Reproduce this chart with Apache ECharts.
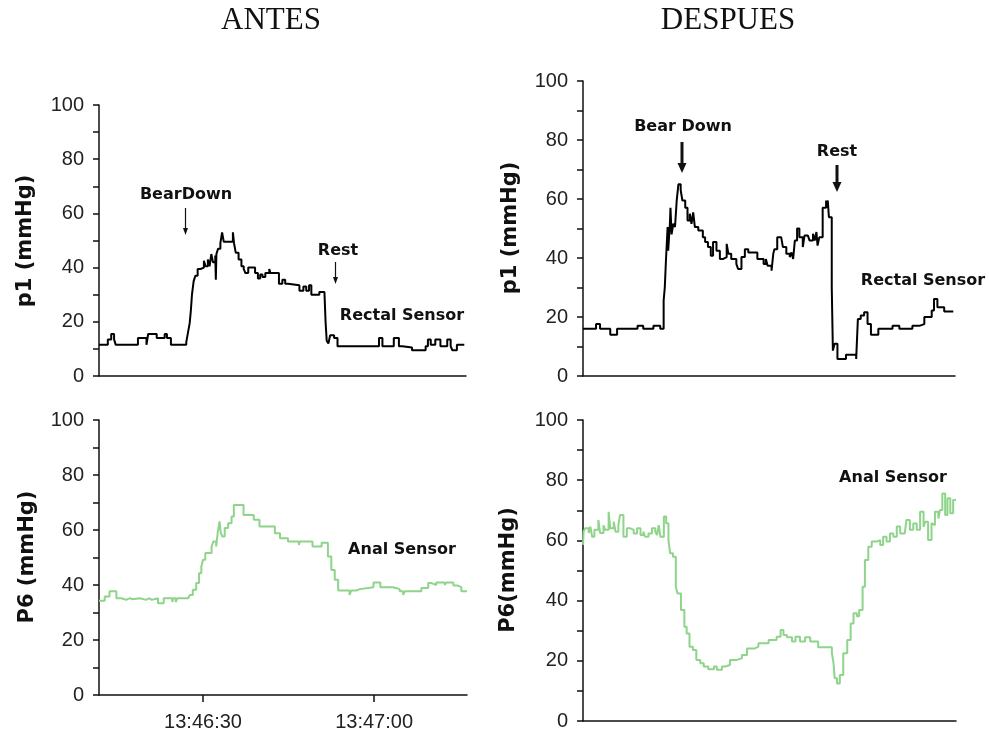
<!DOCTYPE html>
<html><head><meta charset="utf-8">
<script src="https://cdn.jsdelivr.net/npm/echarts@6/dist/echarts.min.js"></script>
<style>html,body{margin:0;padding:0;background:#fff}#c{width:989px;height:733px}</style>
</head><body><div id="c"></div>
<script>
// ---- DATA: [seconds, mmHg] (left: seconds after 13:46:00) ----
const antesRectal = [[11.75,11.5],[13.3,13.5],[13.9,15.5],[14.4,13.5],[14.7,11.5],[18.6,14],[20.1,11.5],[20.4,15.5],[21.9,14],[23.3,15.5],[23.7,14],[24.4,11.5],[27.1,12.5],[27.4,16],[27.7,19.5],[27.9,24],[28.1,30],[28.4,35],[28.7,37],[29.1,39.5],[29.6,40],[30.2,42.5],[30.5,40.5],[30.9,43],[31.2,40.5],[31.5,45],[31.8,42],[32.2,44.5],[32.3,35.5],[32.4,45],[32.7,47],[33.1,49],[33.4,53],[33.7,49.5],[35.3,53],[35.5,49],[35.8,45.5],[36.3,43],[36.8,40.5],[37.2,39.5],[37.5,38],[38.0,40],[39.2,38],[39.7,36],[40.1,37.5],[40.5,36.5],[41.0,38],[41.7,39.5],[41.9,38],[43.4,34],[44.0,35.5],[44.5,34],[45.0,33.5],[47.0,31.5],[47.7,33],[48.2,31.5],[48.7,33.5],[49.1,30],[50.5,31],[51.4,30.5],[51.6,20],[51.8,13],[52.1,12],[52.4,15],[53.1,14],[53.7,11],[61.0,14],[61.6,11],[63.6,14],[64.5,11],[65.1,10.5],[66.8,9.5],[69.2,11],[69.6,13.5],[70.1,11.5],[70.9,13.5],[71.8,11],[73.0,13.5],[73.6,11],[73.9,9.5],[74.7,11.5],[76.0,11.5]];
const antesAnal = [[11.75,34.3],[12.75,35.8],[13.6,37.7],[14.8,35.2],[15.7,34.6],[16.5,35.2],[17.2,34.8],[17.6,35.2],[18.9,34.6],[20.0,35.2],[20.6,34.6],[21.0,35.2],[22.1,33.4],[23.1,35.2],[24.6,33.8],[24.8,35.2],[25.2,33.8],[25.5,35.2],[27.4,35.2],[27.7,36.4],[28.2,38.3],[28.8,40.7],[29.3,44.3],[29.7,46.7],[30.0,49.2],[30.4,51.6],[31.5,54],[31.8,55.8],[32.3,54],[32.6,59.4],[32.9,63.1],[33.1,59],[33.4,57.6],[33.8,60.7],[34.4,62.5],[35.0,64.9],[35.4,69.1],[37.1,65.5],[38.9,63.7],[39.9,61.3],[42.6,58.8],[43.5,57],[44.9,55.8],[46.8,54.6],[47.0,55.8],[49.2,54],[50.8,55.4],[51.9,50.4],[52.5,45.5],[53.1,41.9],[53.7,38],[55.7,36.4],[56.0,38],[56.9,38.5],[57.5,39.2],[59.9,40.9],[61.1,39.2],[63.3,38.5],[64.5,37.7],[65.1,36.4],[65.4,37.7],[68.3,38.9],[69.5,40.7],[70.1,40],[70.9,40.9],[72.4,40],[72.7,40.9],[73.9,39.8],[74.7,39.2],[75.3,37.7],[76.3,37.7]];
const despuesRectal = [[0,16],[2.3,17.6],[3.0,16],[4.8,14],[6.0,16],[9.6,17],[10.6,16],[12.4,17],[13.6,16],[14.2,25.6],[14.4,30],[14.6,39],[14.9,50.5],[15.0,42.5],[15.3,51.6],[15.4,57],[15.6,48],[15.9,51.6],[16.2,50.5],[16.5,59.5],[16.8,65],[17.2,63],[17.5,59.5],[18.0,57],[18.4,52.7],[18.8,55],[19.1,51.6],[19.4,55.5],[19.7,50.5],[20.3,49.3],[21.1,47],[21.5,45.4],[22.0,43.7],[22.5,40.8],[22.9,45.4],[23.5,42.5],[24.1,39.7],[24.7,40.3],[25.3,44.8],[25.6,41.4],[26.1,39.7],[27.0,38],[27.3,36.3],[27.9,40.3],[28.5,43],[29.1,41.9],[30.7,39.7],[31.8,38],[32.2,39.7],[32.5,37.4],[33.2,35.7],[33.5,41.4],[33.7,43],[34.2,47],[34.9,47.6],[35.2,43.7],[35.8,41.4],[36.4,40.3],[36.7,41.9],[37.0,39.7],[37.3,45.9],[37.7,50],[38.1,47],[38.7,43.7],[39.0,47.6],[39.6,47],[39.9,45.9],[40.5,48.2],[40.8,45.9],[41.1,48.8],[41.3,44.2],[41.6,47],[42.2,57],[42.8,59.5],[42.9,57],[43.1,59.5],[43.3,53.8],[43.8,30],[44.0,8.6],[44.3,10.9],[44.8,5.8],[46.3,7.2],[48.1,5.8],[48.4,19.3],[48.9,20.5],[49.5,21.6],[50.1,17.6],[50.7,14],[52.0,16],[54.5,17],[55.7,16],[58.0,17],[59.2,17.6],[60.1,20],[61.4,22.2],[61.8,26.1],[62.4,23.3],[63.6,21.9],[65.2,21.9]];
const despuesAnal = [[0,58.5],[0.1,63],[0.4,64],[1.0,62.5],[1.3,64.6],[1.6,61.2],[2.0,63.5],[2.7,66.8],[3.0,62.5],[3.6,65],[3.9,63.5],[4.5,69.5],[4.8,64],[5.4,66.2],[5.7,62.9],[6.2,65],[6.5,68.4],[7.1,61.2],[7.7,64],[8.3,63.5],[8.9,62.3],[9.5,64],[10.1,61.8],[10.6,62.9],[10.9,61.2],[11.5,62.3],[12.1,64],[12.7,62.9],[13.0,61.8],[13.3,65.1],[13.6,61.2],[14.2,67.9],[14.6,65.7],[15.0,60.1],[15.3,55.7],[15.8,54.6],[16.3,44.6],[16.6,42.4],[17.2,36.9],[17.8,31.3],[18.2,29.1],[18.7,24.7],[19.3,23.6],[19.9,20.3],[20.6,19.2],[21.2,18.1],[22.0,17.2],[23.0,18.1],[23.5,17],[24.4,18.1],[25.0,18.6],[25.8,20.3],[27.0,20.8],[27.9,21.9],[28.8,24.1],[30.2,24.7],[30.8,25.8],[32.6,26.9],[34.0,28],[34.7,30.2],[35.2,28.6],[35.8,27.8],[36.7,26.4],[37.3,28],[38.1,26.4],[39.0,27.8],[39.9,26.4],[41.3,24.5],[43.7,22.5],[44.0,19.2],[44.2,14.2],[44.6,12.5],[45.1,15.3],[45.7,22.5],[46.4,26.9],[47.0,32.4],[47.5,35.8],[48.1,34.8],[48.5,36.9],[49.1,44.6],[49.5,53.5],[50.1,57.9],[50.7,59.6],[51.6,60.1],[52.2,58.5],[52.7,61.2],[53.3,59.6],[53.9,62.3],[54.5,61.2],[55.1,64.6],[55.7,62.3],[56.5,62.9],[56.8,66.8],[57.4,63.5],[58.0,65.6],[58.6,63.5],[59.2,69.5],[59.8,64.5],[60.1,66.2],[60.6,60.1],[61.2,65.7],[61.5,65.1],[61.8,69.5],[62.4,67.3],[62.7,70.1],[63.1,75.6],[63.6,68.4],[64.0,74],[64.5,69],[65.0,73.4],[65.5,73.4]];
const xTickValues = [30, 60];
const xTickLabels = ['13:46:30', '13:47:00'];
const panelTitles = ['ANTES', 'DESPUES'];
const yNames = ['p1 (mmHg)', 'P6 (mmHg)', 'p1 (mmHg)', 'P6(mmHg)'];

// ---- CHART ----
const chart = echarts.init(document.getElementById('c'), null, {renderer: 'canvas'});
const FONT = '"Liberation Sans", Arial, Helvetica, sans-serif';
const BFONT = '"DejaVu Sans", "Liberation Sans", Arial, sans-serif';
const AX = '#111';
const BLACK = '#000';
const GREEN = '#8ed48a';

function yAx(gi) {
  return {type: 'value', gridIndex: gi, min: 0, max: 100, interval: 10,
    axisLine: {show: true, lineStyle: {color: AX, width: 1.5}},
    axisTick: {show: true, inside: false, length: 6, lineStyle: {color: AX, width: 1.5}},
    axisLabel: {show: true, margin: 15, fontSize: 20, color: '#222', fontFamily: FONT,
      formatter: v => (v % 20 === 0 ? String(v) : '')},
    splitLine: {show: false}};
}
function xAx(gi, min, max, withLabels) {
  return {type: 'value', gridIndex: gi, min: min, max: max,
    axisLine: {show: true, onZero: false, lineStyle: {color: AX, width: 1.5}},
    axisTick: withLabels ? {show: true, length: 7, customValues: xTickValues, lineStyle: {color: AX, width: 1.5}} : {show: false},
    axisLabel: withLabels ? {show: true, customValues: xTickValues, margin: 17, fontSize: 20, color: '#222', fontFamily: FONT,
      formatter: v => xTickLabels[xTickValues.indexOf(v)] || ''} : {show: false},
    splitLine: {show: false}};
}
function ser(i, data, color) {
  return {type: 'line', xAxisIndex: i, yAxisIndex: i, data: data, step: 'end',
    showSymbol: false, symbol: 'none', lineStyle: {color: color, width: 2}, itemStyle: {color: color},
    emphasis: {disabled: true}, silent: true, z: 3};
}
function txt(x, y, s, font, rot) {
  return {type: 'text', x: x, y: y, rotation: rot || 0, silent: true,
    style: {text: s, font: font, fill: '#111', textAlign: 'center', textVerticalAlign: 'middle'}};
}
function arrow(x, y1, y2, thick) {
  const w = thick ? 3 : 1.2, hw = thick ? 4.5 : 2.5, hh = thick ? 10 : 7;
  return {type: 'group', silent: true, children: [
    {type: 'line', shape: {x1: x, y1: y1, x2: x, y2: y2 - hh + 1}, style: {stroke: '#111', lineWidth: w}},
    {type: 'polygon', shape: {points: [[x - hw, y2 - hh], [x + hw, y2 - hh], [x, y2]]}, style: {fill: '#111'}}
  ]};
}
const ANN = 'bold 16px ' + BFONT;
const YN = 'bold 21px ' + BFONT;
const TT = '31px "Liberation Serif", "Times New Roman", serif';

chart.setOption({
  animation: false,
  backgroundColor: '#fff',
  grid: [
    {left: 99, top: 105, width: 367, height: 271},
    {left: 99, top: 420, width: 368, height: 275},
    {left: 583, top: 81, width: 372, height: 295},
    {left: 583, top: 420, width: 373, height: 301}
  ],
  xAxis: [xAx(0, 11.75, 76.3, false), xAx(1, 11.75, 76.3, true), xAx(2, 0, 65.5, false), xAx(3, 0, 65.5, false)],
  yAxis: [yAx(0), yAx(1), yAx(2), yAx(3)],
  series: [ser(0, antesRectal, BLACK), ser(1, antesAnal, GREEN), ser(2, despuesRectal, BLACK), ser(3, despuesAnal, GREEN)],
  graphic: [
    txt(271, 21, panelTitles[0], TT), txt(728, 21, panelTitles[1], TT),
    txt(26, 241, yNames[0], YN, Math.PI / 2), txt(28, 557, yNames[1], YN, Math.PI / 2),
    txt(511, 228, yNames[2], YN, Math.PI / 2), txt(509, 570, yNames[3], YN, Math.PI / 2),
    txt(186, 195, 'BearDown', ANN), arrow(185.5, 208, 235, false),
    txt(338, 251, 'Rest', ANN), arrow(335.5, 262, 284, false),
    txt(402, 316, 'Rectal Sensor', ANN),
    txt(402, 550, 'Anal Sensor', ANN),
    txt(683, 127, 'Bear Down', ANN), arrow(682, 142, 173, true),
    txt(837, 152, 'Rest', ANN), arrow(837, 165, 192, true),
    txt(923, 281, 'Rectal Sensor', ANN),
    txt(893, 478, 'Anal Sensor', ANN)
  ]
});
</script></body></html>
